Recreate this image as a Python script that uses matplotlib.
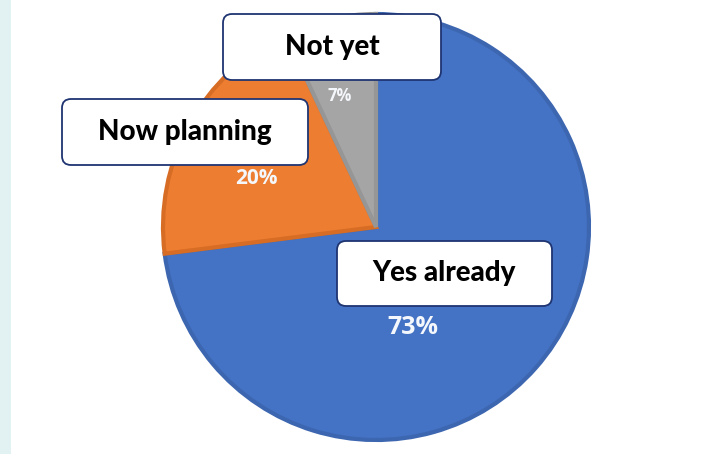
"""Pie chart: adoption status (Yes already / Now planning / Not yet)."""

import matplotlib.pyplot as plt
from matplotlib.patches import FancyBboxPatch, Rectangle

# Data
labels = ['Yes already', 'Now planning', 'Not yet']
shares = [73, 20, 7]
colors = ['#4472C4', '#ED7D31', '#A5A5A5']
edge_colors = ['#3D66B0', '#D76C24', '#969696']

# Layout (pixel coordinates, y measured upwards)
W, H = 727, 454
center = (376, 227)
radius = 213
# label boxes: x0, y0, width, height
boxes = [(337, 148, 215, 65), (62, 289, 246, 66), (223, 374, 218, 66)]
pct_pos = [(413, 126), (256, 276), (340, 358)]
pct_size = [18, 15, 12]

fig = plt.figure(figsize=(W / 100, H / 100), dpi=100)
ax = fig.add_axes([0, 0, 1, 1])

ax.pie(shares, colors=colors, startangle=90, counterclock=False,
       center=center, radius=radius,
       wedgeprops=dict(linewidth=3, joinstyle='miter'))
for w, ec in zip(ax.patches, edge_colors):
    w.set_edgecolor(ec)

ax.set_xlim(0, W)
ax.set_ylim(0, H)
ax.set_aspect('equal')
ax.axis('off')

# light strip on the left edge
ax.add_patch(Rectangle((0, 0), 11, H, facecolor='#E2F1F1', edgecolor='none'))

for (x0, y0, bw, bh), lab in zip(boxes, labels):
    ax.add_patch(FancyBboxPatch((x0, y0), bw, bh,
                                boxstyle='round,pad=0,rounding_size=9',
                                facecolor='white', edgecolor='#1F3572', linewidth=1.3,
                                zorder=5))
    ax.text(x0 + bw / 2, y0 + bh / 2, lab, ha='center', va='center',
            fontsize=20, fontweight='black', family='Lato', color='black', zorder=6)

for (px, py), s, fs in zip(pct_pos, shares, pct_size):
    ax.text(px, py, f'{s}%', ha='center', va='center', fontsize=fs,
            fontweight='bold', family='Open Sans', color='#F4F7FB', zorder=4)

fig.savefig('out.png', dpi=100)
